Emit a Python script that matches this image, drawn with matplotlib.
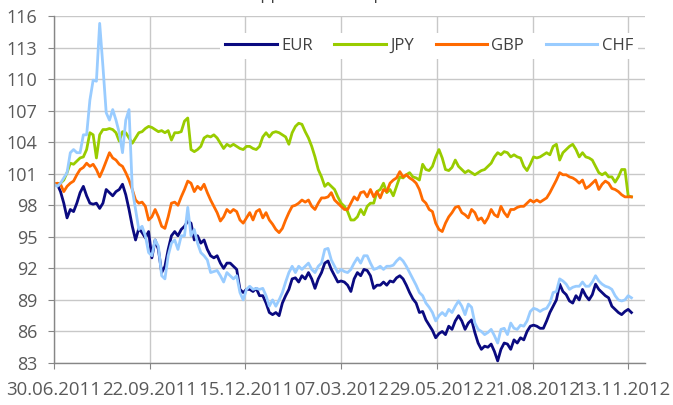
import numpy as np
import matplotlib
matplotlib.use("Agg")
import matplotlib.pyplot as plt
from matplotlib.transforms import ScaledTranslation

plt.rcParams['font.family'] = ['Open Sans', 'DejaVu Sans']

tick_labels = ["30.06.2011", "22.09.2011", "15.12.2011", "07.03.2012",
               "29.05.2012", "21.08.2012", "13.11.2012"]
y_ticks = [83, 86, 89, 92, 95, 98, 101, 104, 107, 110, 113, 116]

eur = [100.0,
       100.0, 99.3, 98.2, 96.8, 97.6, 97.4, 98.2, 99.2, 99.8, 98.9, 98.2, 98.1, 98.2, 97.7, 98.2,
       99.5, 99.2, 98.9, 99.3, 99.5, 100.0, 99.0, 97.6, 96.0, 94.7, 95.8, 95.4, 94.9, 95.5,
       93.0, 94.7, 93.8, 91.6, 92.2, 93.8, 95.1, 95.5, 95.1, 95.7, 96.0, 96.5, 96.3, 94.7, 95.1,
       94.4, 94.7, 93.8, 93.2, 93.0, 93.2, 92.5, 92.0, 92.5, 92.5, 92.2, 91.9, 90.0, 89.7, 90.0,
       90.0, 89.8, 90.1, 89.4, 89.4, 88.7, 87.8, 87.6, 87.8, 87.5, 88.7, 89.4, 90.0, 91.0, 91.1,
       90.7, 91.3, 91.0, 91.6, 91.0, 90.1, 91.0, 91.6, 92.5, 92.7, 91.9, 91.3, 90.7, 90.8, 90.7,
       90.4, 89.8, 91.0, 91.6, 91.3, 91.9, 91.8, 91.3, 90.1, 90.4, 90.4, 90.7, 90.4, 90.8, 90.7,
       91.1, 91.3, 91.0, 90.4, 89.7, 89.1, 88.7, 87.8, 87.9, 87.1, 86.6, 86.1, 85.4, 85.8, 86.0,
       85.7, 86.5, 86.2, 87.0, 87.5, 87.0, 86.2, 86.8, 87.1, 85.9, 84.9, 84.3, 84.6, 84.5, 84.8,
       84.1, 83.2, 84.3, 84.9, 84.8, 84.3, 85.2, 84.9, 85.4, 85.2, 86.0, 86.5, 86.6, 86.5, 86.3,
       86.3, 87.0, 87.8, 88.4, 89.0, 90.5, 89.8, 89.5, 88.9, 88.7, 89.4, 89.0, 90.0, 89.4, 89.0,
       89.5, 90.5, 90.0, 89.7, 89.4, 89.2, 88.4, 88.1, 87.8, 87.6, 87.9, 88.1, 87.8]

jpy = [100.0,
       100.0, 100.1, 100.4, 101.1, 102.0, 101.9, 102.2, 102.5, 102.6, 103.3, 104.9, 104.7, 102.5, 104.7, 105.2,
       105.2, 105.3, 105.2, 104.9, 104.1, 105.0, 104.9, 104.4, 103.9, 104.4, 104.9, 105.0, 105.3, 105.5,
       105.4, 105.2, 105.0, 105.1, 104.9, 105.1, 104.2, 104.9, 104.9, 105.0, 106.0, 106.3, 103.3, 103.1, 103.3,
       103.6, 104.4, 104.6, 104.5, 104.7, 104.4, 103.9, 103.4, 103.8, 103.6, 103.8, 103.6, 103.4, 103.3, 103.6,
       103.6, 103.4, 103.3, 103.6, 104.5, 104.9, 104.5, 104.9, 105.0, 104.9, 104.7, 104.5, 103.8, 104.9, 105.5,
       105.8, 105.7, 105.0, 104.4, 103.6, 102.6, 101.4, 100.7, 99.8, 100.1, 99.8, 99.5, 98.8, 98.2, 97.9,
       97.4, 96.6, 96.6, 96.9, 97.6, 97.1, 97.9, 98.2, 98.2, 99.3, 99.5, 100.1, 99.2, 99.5, 98.9,
       99.8, 100.7, 100.6, 100.9, 101.1, 100.7, 100.6, 100.4, 101.9, 101.4, 101.3, 101.7, 102.6, 103.3, 102.5,
       101.4, 101.3, 101.6, 102.3, 101.7, 101.4, 101.1, 101.3, 101.1, 100.9, 101.1, 101.3, 101.4, 101.7, 102.0,
       102.6, 103.0, 102.8, 103.1, 103.0, 102.6, 102.8, 102.6, 102.5, 101.7, 101.3, 101.9, 102.6, 102.5, 102.6,
       102.8, 103.0, 102.8, 103.6, 103.8, 102.3, 103.0, 103.3, 103.6, 103.8, 103.3, 102.6, 103.0, 102.6, 102.5,
       102.3, 101.7, 101.1, 100.9, 101.1, 100.7, 100.7, 100.2, 100.7, 101.4, 101.4, 98.9, 98.8]

gbp = [100.0,
       100.1, 100.0, 99.3, 99.8, 100.1, 100.3, 100.9, 101.4, 101.6, 102.0, 101.7, 101.9, 101.4, 100.7, 101.4,
       102.2, 103.0, 102.5, 102.3, 101.9, 101.7, 101.1, 100.4, 99.5, 98.5, 98.2, 98.3, 97.9, 96.6,
       96.9, 97.6, 96.9, 96.0, 95.8, 96.9, 98.2, 98.3, 98.0, 98.8, 99.5, 100.3, 100.1, 99.3, 99.8,
       99.5, 100.0, 99.2, 98.5, 97.9, 97.3, 96.5, 96.9, 97.6, 97.3, 97.6, 97.4, 96.6, 96.3, 96.8,
       97.3, 96.6, 97.4, 97.6, 96.8, 97.3, 96.6, 96.2, 95.7, 95.4, 95.8, 96.6, 97.3, 97.9, 98.0,
       98.2, 98.5, 98.3, 98.5, 97.9, 97.6, 98.2, 98.7, 98.7, 98.8, 99.2, 98.5, 98.2, 97.9, 97.6,
       97.6, 98.2, 98.8, 98.5, 99.2, 99.3, 98.8, 99.5, 98.8, 99.3, 98.7, 99.5, 99.3, 100.1, 100.4,
       100.6, 101.2, 100.7, 100.9, 100.6, 100.4, 100.1, 99.5, 98.5, 98.2, 97.6, 97.4, 96.3, 95.7, 95.5,
       96.3, 96.9, 97.3, 97.8, 97.9, 97.3, 97.1, 96.8, 97.6, 97.3, 96.6, 96.8, 96.3, 96.8, 97.6,
       97.1, 96.9, 97.9, 97.3, 96.9, 97.6, 97.6, 97.8, 97.9, 97.9, 98.2, 98.5, 98.3, 98.5, 98.3,
       98.5, 98.7, 99.2, 99.8, 100.4, 101.1, 100.9, 100.9, 100.7, 100.6, 100.4, 100.1, 100.4, 99.6, 99.8,
       100.1, 100.4, 99.5, 100.0, 100.3, 100.1, 99.6, 99.5, 99.3, 99.0, 98.8, 98.8, 98.8]

chf = [100.0,
       99.8, 100.1, 100.6, 101.1, 103.0, 103.3, 103.0, 103.0, 104.7, 104.7, 108.0, 109.9, 109.8, 115.3, 111.2,
       106.8, 106.1, 107.1, 106.1, 104.9, 103.0, 106.1, 107.1, 99.5, 97.6, 95.7, 96.0, 95.1, 93.5,
       93.2, 94.7, 94.1, 91.3, 91.0, 93.2, 94.4, 94.7, 93.8, 95.1, 95.1, 97.8, 95.1, 95.7, 94.4,
       93.5, 93.2, 92.8, 91.6, 91.7, 91.8, 91.3, 90.7, 91.6, 91.3, 91.0, 91.3, 89.7, 89.0, 90.0,
       90.3, 90.0, 90.1, 90.0, 90.1, 89.4, 88.4, 89.0, 88.4, 89.0, 89.7, 90.7, 91.6, 92.2, 91.6,
       92.2, 91.9, 92.2, 92.5, 91.9, 91.6, 92.2, 92.5, 93.8, 93.9, 92.8, 92.2, 91.6, 91.9, 91.7,
       91.6, 91.9, 92.5, 93.0, 92.5, 93.2, 93.2, 92.5, 91.9, 92.0, 92.2, 91.9, 92.2, 92.2, 92.3,
       92.7, 93.0, 92.7, 92.2, 91.6, 91.0, 90.4, 89.7, 89.4, 88.7, 88.3, 87.8, 87.0, 87.5, 87.8,
       87.5, 88.1, 87.8, 88.4, 88.9, 88.4, 87.6, 88.6, 88.3, 86.8, 86.2, 86.0, 85.7, 85.9, 86.2,
       85.6, 84.9, 86.2, 86.3, 85.7, 86.8, 86.3, 86.2, 86.6, 86.5, 87.0, 87.9, 88.2, 88.1, 87.9,
       88.1, 88.2, 88.7, 89.7, 89.8, 91.0, 90.8, 90.5, 90.0, 90.2, 90.3, 90.3, 90.7, 90.3, 90.3,
       90.7, 91.3, 90.8, 90.5, 90.3, 90.2, 90.0, 89.4, 89.0, 88.9, 89.0, 89.4, 89.2]

series = [("EUR", eur, "#0a0a80"), ("JPY", jpy, "#99cc00"),
          ("GBP", gbp, "#ff6a00"), ("CHF", chf, "#99ccff")]

fig = plt.figure(figsize=(6.73, 4.05), dpi=100)
ax = fig.add_axes([54/673, 1-363/405, (645-54)/673, (363-16)/405])

n = len(eur)
x = np.linspace(0, 362, n)
for name, vals, col in series:
    ax.plot(x, vals, color=col, lw=2.0, label=name, solid_joinstyle='round')

ax.set_xlim(0, 370.5)
ax.set_ylim(83, 116)
ax.set_yticks(y_ticks)
ax.set_xticks([60*i for i in range(len(tick_labels))])
ax.set_xticklabels(tick_labels)
ax.grid(True, color="#c8c8c8", lw=1.0)
ax.set_axisbelow(True)
for s in ["top", "right"]:
    ax.spines[s].set_visible(False)
for s in ["left", "bottom"]:
    ax.spines[s].set_color("#868686")
    ax.spines[s].set_linewidth(1.0)
ax.tick_params(axis='y', length=4, color="#868686", labelsize=13, labelcolor="#595959", pad=8)
ax.tick_params(axis='x', length=4, color="#868686", labelsize=13.4, labelcolor="#595959", pad=9)

# keep the last date label inside the figure
last = ax.get_xticklabels()[-1]
last.set_transform(last.get_transform() + ScaledTranslation(-5/100, 0, fig.dpi_scale_trans))

leg = ax.legend(loc='center right', bbox_to_anchor=((638-54)/591, 1-(46-16)/347),
                ncol=4, frameon=True, fontsize=12, handlelength=3.1, handletextpad=0.25,
                columnspacing=1.3, borderpad=0.3, borderaxespad=0)
leg.get_frame().set_facecolor("white")
leg.get_frame().set_edgecolor("none")
leg.get_frame().set_alpha(1)
leg.get_frame().set_boxstyle("square", pad=0)
for t in leg.get_texts():
    t.set_color("#404040")
for h in leg.get_lines():
    h.set_linewidth(2.2)

fig.text(250/673, 1 + 1/405, "Appreciation/depreciation", fontsize=12,
         color="#404040", ha='left', va='baseline')

fig.savefig("out.png", dpi=100)
